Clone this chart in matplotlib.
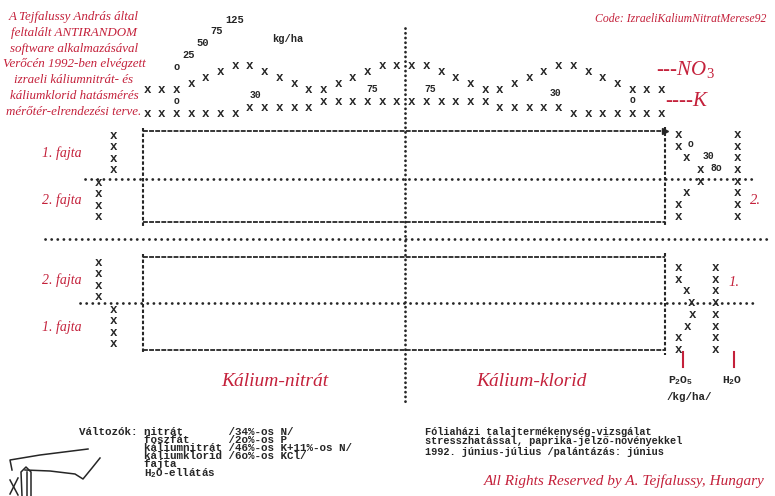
import numpy as np
import matplotlib.pyplot as plt

plt.rcParams['lines.scale_dashes'] = False
plt.rcParams['mathtext.fontset'] = 'custom'
plt.rcParams['mathtext.it'] = 'Liberation Serif:italic'
plt.rcParams['mathtext.rm'] = 'Liberation Serif'
plt.rcParams['mathtext.tt'] = 'Liberation Mono:bold'

RED = '#c4213b'
INK = '#262626'
MONO = 'Liberation Mono'
SERIF = 'Liberation Serif'

# top profile, one value per plot column (36 columns)
no3_level = [0, 0, 0, 1, 2, 3, 4, 4, 3, 2, 1, 0, 0, 1, 2, 3, 4, 4,
             4, 4, 3, 2, 1, 0, 0, 1, 2, 3, 4, 4, 3, 2, 1, 0, 0, 0]
k_level = [0, 0, 0, 0, 0, 0, 0, 1, 1, 1, 1, 1, 2, 2, 2, 2, 2, 2,
           2, 2, 2, 2, 2, 2, 1, 1, 1, 1, 1, 0, 0, 0, 0, 0, 0, 0]
n_dose_labels = ['o', '25', '50', '75', '125']
k_dose_labels = ['o', '30', '75', '75', '30', 'o']

# right side: P2O5 dose (kg/ha) per row, H2O level per block
p2o5_upper = [0, 0, 30, 80, 80, 30, 0, 0]
p2o5_lower = [0, 0, 30, 50, 52, 35, 0, 0]
p2o5_labels = ['o', '30', '8o']
h2o_level = [2, 1]
reps_per_variety = 4

red_lines = ['A Tejfalussy András által', 'feltalált ANTIRANDOM',
             'software alkalmazásával', 'Verőcén 1992-ben elvégzett',
             'izraeli káliumnitrát- és', 'káliumklorid hatásmérés',
             'mérőtér-elrendezési terve.']
variables = ['Változók: nitrát       /34%-os N/',
             '          foszfát      /2o%-os P',
             '          káliumnitrát /46%-os K+11%-os N/',
             '          káliumklorid /6o%-os KCl/',
             '          fajta',
             '          H$_\\mathtt{2}$O-ellátás']
notes = ['Fóliaházi talajtermékenység-vizsgálat',
         'stresszhatással, paprika-jelző-növényekkel',
         '1992. június-július /palántázás: június']

fig = plt.figure(figsize=(7.75, 4.96), dpi=100)
ax = fig.add_axes([0, 0, 1, 1])
ax.set_xlim(0, 775)
ax.set_ylim(496, 0)
ax.axis('off')


def typed(x, y, s, size=8, **kw):
    ax.text(x, y, s, fontfamily=MONO, fontweight='bold', fontsize=size,
            color=INK, ha=kw.pop('ha', 'center'), va=kw.pop('va', 'center'), **kw)


def dotted(xs, ys, gap=4.3):
    ax.plot(xs, ys, color=INK, lw=2.0, ls=(0, (0.1, gap)),
            dash_capstyle='round')


def dashed(xs, ys, pat=(3.5, 0.9), lw=1.3):
    ax.plot(xs, ys, color=INK, lw=lw, ls=(0, pat))


# top profile
for c, (n, k) in enumerate(zip(no3_level, k_level)):
    x = 147 + 14.7 * c
    typed(x, 90 - 5.9 * n, 'x', size=9)
    typed(x, 114 - 6.0 * k, 'x', size=9)
for s, (x, y) in zip(n_dose_labels, [(177, 67), (189, 55), (203, 43), (217, 31), (235, 20)]):
    typed(x, y, s, size=7.5)
typed(288, 39, 'kg/ha', size=7.5)
for s, (x, y) in zip(k_dose_labels, [(177, 101), (255, 95), (372, 89), (430, 89), (555, 93), (633, 100)]):
    typed(x, y, s, size=7)

# red heading block
for i, s in enumerate(red_lines):
    ax.text(74, 17 + 15.8 * i, s, fontfamily=SERIF, style='italic', fontsize=9.4,
            color=RED, ha='center', va='center')
ax.text(766, 19, 'Code: IzraeliKaliumNitratMerese92', fontfamily=SERIF,
        style='italic', fontsize=8.5, color=RED, ha='right', va='center')
ax.text(656, 70, '---NO$_3$', fontfamily=SERIF, style='italic', fontsize=15,
        color=RED, ha='left', va='center')
ax.text(665, 101, '----K', fontfamily=SERIF, style='italic', fontsize=15,
        color=RED, ha='left', va='center')

# plot blocks
for top, bot in [(131, 222), (257, 350)]:
    dashed([143, 665], [top, top])
    dashed([143, 665], [bot, bot])
    dashed([143, 143], [top - 3, bot + 4], pat=(2.5, 1.5), lw=1.5)
    dashed([665, 665], [top - 4, bot + 5], pat=(2.5, 1.5), lw=1.5)
ax.plot([665], [131], marker='>', ms=5, color=INK)
dotted([85, 755], [179, 179])
dotted([45, 770], [239, 239])
dotted([80, 757], [303, 303])
dotted([405, 405], [28, 402], gap=3.3)

# varieties on the left
for x0, y0, label in [(113, 136, '1. fajta'), (98, 183, '2. fajta'),
                      (98, 263, '2. fajta'), (113, 310, '1. fajta')]:
    for r in range(reps_per_variety):
        typed(x0, y0 + 11.3 * r, 'x', size=9)
    ax.text(82, y0 + 17, label, fontfamily=SERIF, style='italic', fontsize=10,
            color=RED, ha='right', va='center')

# P2O5 and H2O columns on the right
for y0, doses, lev in [(135, p2o5_upper, h2o_level[0]), (268, p2o5_lower, h2o_level[1])]:
    for r, d in enumerate(doses):
        y = y0 + 11.7 * r
        typed(678 + 0.275 * d, y, 'x', size=9)
        typed(693 + 22 * lev, y, 'x', size=9)
for s, (x, y) in zip(p2o5_labels, [(691, 144), (708, 156), (716, 168)]):
    typed(x, y, s, size=7)
ax.text(750, 200, '2.', fontfamily=SERIF, style='italic', fontsize=10.5, color=RED,
        ha='left', va='center')
ax.text(728, 282, '1.', fontfamily=SERIF, style='italic', fontsize=10.5, color=RED,
        ha='left', va='center')
for x in [683, 734]:
    ax.plot([x, x], [352, 367], color=RED, lw=1.5)
typed(668, 381, 'P$_\\mathtt{2}$O$_\\mathtt{5}$', size=8.2, ha='left')
typed(722, 381, 'H$_\\mathtt{2}$O', size=8.2, ha='left')
typed(667, 397, '/kg/ha/', size=7.8, ha='left')

ax.text(275, 381, 'Kálium-nitrát', fontfamily=SERIF, style='italic', fontsize=14,
        color=RED, ha='center', va='center')
ax.text(531, 381, 'Kálium-klorid', fontfamily=SERIF, style='italic', fontsize=14,
        color=RED, ha='center', va='center')

# footer texts
typed(79, 427, '\n'.join(variables), size=7.8, ha='left', va='top', linespacing=0.74)
typed(425, 427, '\n'.join(notes[:2]), size=7.4, ha='left', va='top', linespacing=0.85)
typed(425, 452, notes[2], size=7.4, ha='left')
ax.text(765, 481, 'All Rights Reserved by A. Tejfalussy, Hungary', fontfamily=SERIF,
        style='italic', fontsize=11, color=RED, ha='right', va='center')

# signature scribble
sig = [([12, 10, 40, 88], [470, 460, 455, 449]),
       ([25, 50, 75, 83, 92, 100], [470, 471, 474, 479, 468, 458]),
       ([22, 21, 26, 31, 31], [496, 472, 467, 472, 496]),
       ([27, 27], [472, 496]),
       ([10, 18], [480, 495]), ([18, 10], [478, 494])]
for xs, ys in sig:
    ax.plot(xs, ys, color=INK, lw=1.1)

fig.savefig('out.png', dpi=100, facecolor='white')
